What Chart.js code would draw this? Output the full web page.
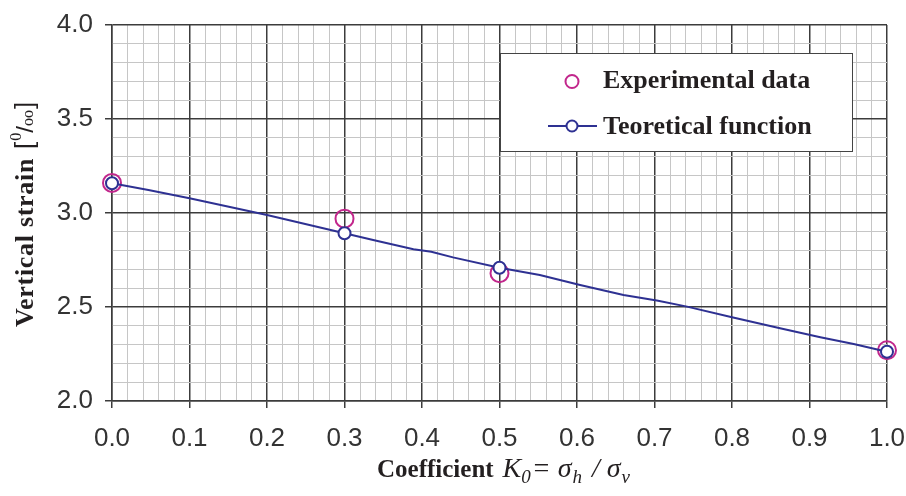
<!DOCTYPE html>
<html lang="en">
<head>
<meta charset="UTF-8">
<title>Vertical strain vs K0</title>
<script src="https://cdn.jsdelivr.net/npm/chart.js@4.4.1/dist/chart.umd.min.js"></script>
<style>
  * { margin:0; padding:0; box-sizing:border-box; }
  body { background:#fff; }
  #box { position:relative; width:906px; height:496px; }
</style>
</head>
<body>
<div id="box"><canvas id="strainChart"></canvas></div>
<script>
// measured points
const kExperimental = [0, 0.3, 0.5, 1.0];
const strainExperimental = [3.16, 2.97, 2.68, 2.27];

// theoretical curve, markers only at the measured K0 values
const kCurve = [0, 0.047, 0.1, 0.2, 0.3, 0.337, 0.389, 0.412, 0.44, 0.5, 0.552, 0.604, 0.66, 0.703, 0.742, 0.8, 0.862, 0.914, 0.957, 1.0];
const strainTheoretical = [3.158, 3.122, 3.078, 2.989, 2.892, 2.856, 2.807, 2.794, 2.764, 2.709, 2.670, 2.617, 2.564, 2.534, 2.502, 2.445, 2.387, 2.339, 2.303, 2.262];
const kMarked = [0, 0.3, 0.5, 1.0];

const xTicks = [];   // every 0.02, labelled every 0.1
for (let i = 0; i <= 50; i++) xTicks.push(i / 50);
const yTicks = [];   // every 0.1, labelled every 0.5
for (let i = 20; i <= 40; i++) yTicks.push(i / 10);

const MAGENTA = '#c2278c';
const BLUE = '#2e3192';
const TEXT = '#231f20';
const MAJOR = '#3c3c3c';
const MINOR = '#c6c6c6';

const isMajorX = v => Math.abs(v * 10 - Math.round(v * 10)) < 1e-6;
const isMajorY = v => Math.abs(v * 2 - Math.round(v * 2)) < 1e-6;

// draws a run of text pieces with their own font and vertical shift
function drawRun(ctx, x, y, parts) {
  let cx = x;
  parts.forEach(p => {
    ctx.font = p.f;
    ctx.letterSpacing = p.ls || '0px';
    ctx.fillText(p.t, cx, y + (p.dy || 0));
    cx += ctx.measureText(p.t).width + (p.gap || 0);
  });
  ctx.letterSpacing = '0px';
}

const decorations = {
  id: 'decorations',
  afterDraw(chart) {
    const ctx = chart.ctx;
    ctx.save();
    ctx.fillStyle = TEXT;
    ctx.textBaseline = 'alphabetic';
    ctx.textAlign = 'left';

    // x axis title
    drawRun(ctx, 377, 477, [
      { t: 'Coefficient', f: 'bold 25px "Liberation Serif"', gap: 9 },
      { t: 'K', f: 'italic 28px "Liberation Serif"' },
      { t: '0', f: 'italic 19px "Liberation Serif"', dy: 6, gap: 1 },
      { t: '= σ', f: 'italic 28px "Liberation Serif"', gap: 1 },
      { t: 'h', f: 'italic 19px "Liberation Serif"', dy: 6, gap: 3 },
      { t: ' / σ', f: 'italic 28px "Liberation Serif"', gap: 1 },
      { t: 'v', f: 'italic 19px "Liberation Serif"', dy: 6 }
    ]);

    // y axis title, rotated
    ctx.save();
    ctx.translate(33, 327);
    ctx.rotate(-Math.PI / 2);
    drawRun(ctx, 0, 0, [
      { t: 'Vertical strain', f: 'bold 26px "Liberation Serif"', ls: '0.7px', gap: 9 },
      { t: '[', f: '26px "Liberation Sans"', gap: 1 },
      { t: '0', f: '16px "Liberation Serif"', dy: -12 },
      { t: '/', f: '24px "Liberation Sans"' },
      { t: 'oo', f: '16px "Liberation Serif"', gap: 1 },
      { t: ']', f: '26px "Liberation Sans"' }
    ]);
    ctx.restore();

    // legend box
    ctx.fillStyle = '#fff';
    ctx.fillRect(500.5, 53.5, 352, 98);
    ctx.strokeStyle = '#444';
    ctx.lineWidth = 1;
    ctx.strokeRect(500.5, 53.5, 352, 98);

    ctx.lineWidth = 2;
    ctx.strokeStyle = MAGENTA;
    ctx.beginPath();
    ctx.arc(572, 81.5, 6.5, 0, Math.PI * 2);
    ctx.stroke();

    ctx.strokeStyle = BLUE;
    ctx.beginPath();
    ctx.moveTo(548, 126);
    ctx.lineTo(597, 126);
    ctx.stroke();
    ctx.fillStyle = '#fff';
    ctx.beginPath();
    ctx.arc(572, 126, 5.5, 0, Math.PI * 2);
    ctx.fill();
    ctx.stroke();

    ctx.fillStyle = TEXT;
    ctx.font = 'bold 26px "Liberation Serif"';
    ctx.fillText('Experimental data', 603, 88);
    ctx.fillText('Teoretical function', 603, 134);
    ctx.restore();
  }
};

new Chart(document.getElementById('strainChart'), {
  type: 'scatter',
  plugins: [decorations],
  data: {
    datasets: [{
      label: 'Teoretical function',
      data: kCurve.map((k, i) => ({ x: k, y: strainTheoretical[i] })),
      showLine: true,
      borderColor: BLUE,
      borderWidth: 2,
      tension: 0,
      pointRadius: c => kMarked.includes(c.raw.x) ? 6 : 0,
      pointBorderColor: BLUE,
      pointBorderWidth: 2,
      pointBackgroundColor: '#fff',
      clip: false
    }, {
      label: 'Experimental data',
      data: kExperimental.map((k, i) => ({ x: k, y: strainExperimental[i] })),
      showLine: false,
      pointRadius: 9,
      pointBorderColor: MAGENTA,
      pointBorderWidth: 2,
      pointBackgroundColor: 'rgba(0,0,0,0)',
      clip: false
    }]
  },
  options: {
    responsive: true,
    maintainAspectRatio: false,
    animation: false,
    events: [],
    layout: { padding: { top: 25, right: 19, left: 0, bottom: 0 } },
    plugins: { legend: { display: false }, tooltip: { enabled: false } },
    scales: {
      x: {
        type: 'linear',
        min: 0, max: 1,
        afterBuildTicks: s => { s.ticks = xTicks.map(v => ({ value: v })); },
        afterFit: s => { s.height = 95; s.paddingLeft = 0; s.paddingRight = 0; },
        ticks: {
          autoSkip: false,
          maxRotation: 0,
          padding: 15,
          color: '#333',
          font: { family: '"Liberation Sans"', size: 26 },
          callback: v => isMajorX(v) ? v.toFixed(1) : ''
        },
        grid: {
          color: c => isMajorX(c.tick.value) ? MAJOR : MINOR,
          lineWidth: c => isMajorX(c.tick.value) ? 1.5 : 1,
          tickColor: c => isMajorX(c.tick.value) ? MAJOR : 'rgba(0,0,0,0)',
          tickLength: 7
        },
        border: { color: MAJOR, width: 1.5 }
      },
      y: {
        type: 'linear',
        min: 2, max: 4,
        afterBuildTicks: s => { s.ticks = yTicks.map(v => ({ value: v })); },
        afterFit: s => { s.width = 112; s.paddingTop = 0; s.paddingBottom = 0; },
        ticks: {
          autoSkip: false,
          padding: 12,
          color: '#333',
          font: { family: '"Liberation Sans"', size: 26 },
          callback: v => isMajorY(v) ? v.toFixed(1) : ''
        },
        grid: {
          color: c => isMajorY(c.tick.value) ? MAJOR : MINOR,
          lineWidth: c => isMajorY(c.tick.value) ? 1.5 : 1,
          tickColor: c => isMajorY(c.tick.value) ? MAJOR : 'rgba(0,0,0,0)',
          tickLength: 7
        },
        border: { color: MAJOR, width: 1.5 }
      }
    }
  }
});
</script>
</body>
</html>
